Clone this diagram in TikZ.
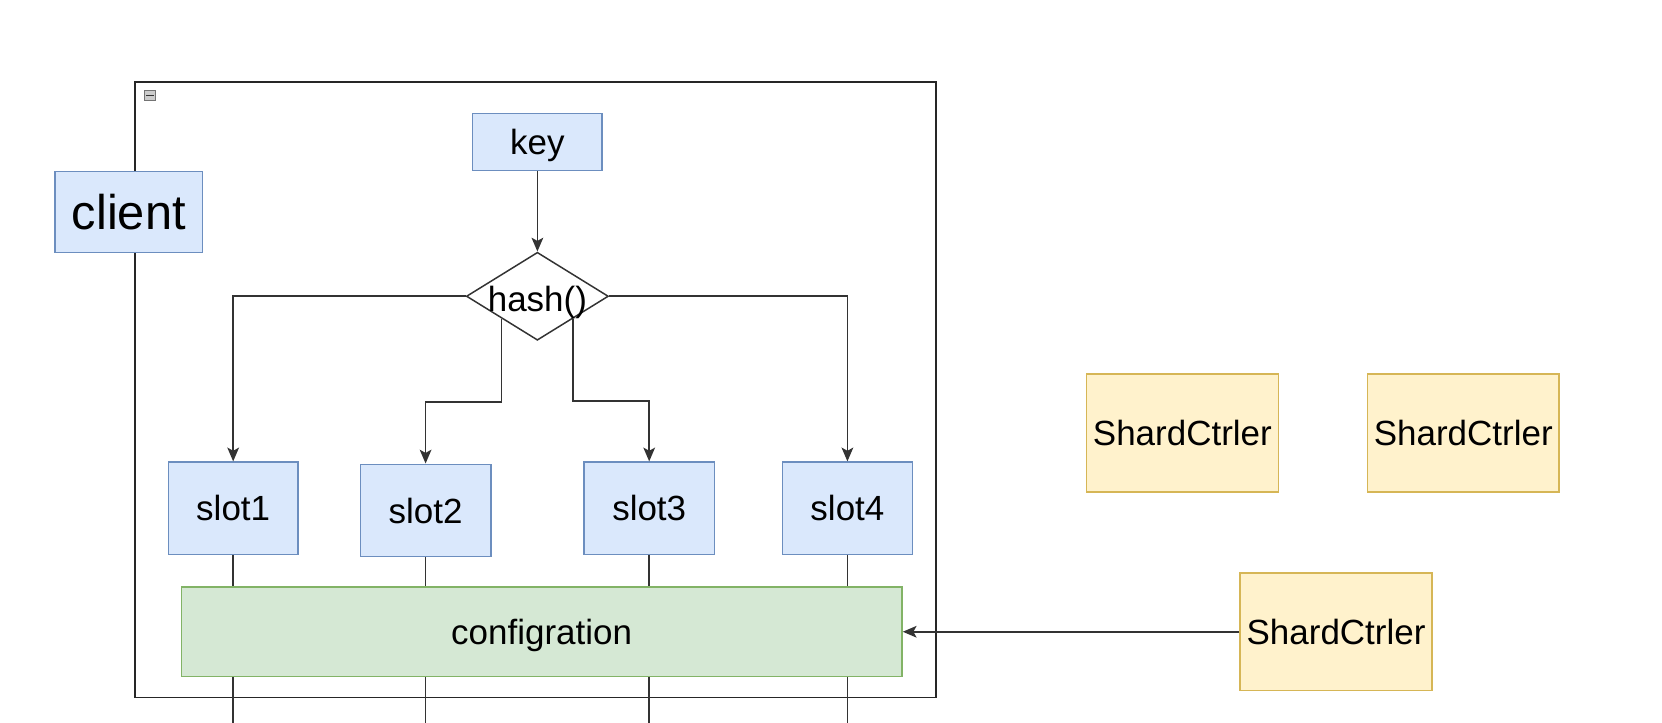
\documentclass[tikz,border=0pt]{standalone}
\usepackage{fontspec}
\setmainfont{Liberation Sans}
\usetikzlibrary{shapes.geometric,arrows.meta,calc}
\definecolor{bluefill}{HTML}{DAE8FC}
\definecolor{blueline}{HTML}{6C8EBF}
\definecolor{greenfill}{HTML}{D5E8D4}
\definecolor{greenline}{HTML}{82B366}
\definecolor{yellowfill}{HTML}{FFF2CC}
\definecolor{yellowline}{HTML}{D6B656}
\definecolor{linecol}{HTML}{333333}
\tikzset{
  bluebox/.style={draw=blueline, fill=bluefill, line width=1.4pt, inner sep=0pt, text depth=0pt, font=\fontsize{33}{39}\selectfont},
  greenbox/.style={draw=greenline, fill=greenfill, line width=1.4pt, inner sep=0pt, text depth=0pt, font=\fontsize{33}{39}\selectfont},
  yellowbox/.style={draw=yellowline, fill=yellowfill, line width=1.4pt, inner sep=0pt, text depth=0pt, font=\fontsize{33}{39}\selectfont},
  conn/.style={draw=linecol, line width=1.7pt},
  arr/.style={conn, -{Stealth[length=13pt,width=11pt,inset=3pt]}},
}
\begin{document}
\begin{tikzpicture}[x=1pt,y=-1pt]
\useasboundingbox (0,0) rectangle (1568,682);
% container
\node[draw=black!85, line width=1.7pt, minimum width=756pt, minimum height=581pt, inner sep=0pt] (frame) at (505,367.5) {};
\node[draw=black!55, fill=black!20, line width=0.8pt, minimum width=11pt, minimum height=10pt, inner sep=0pt] (mini) at (141.5,90) {};
\draw[line width=1.5pt, black!80] ($(mini.west)+(2.5,0)$) -- ($(mini.east)+(-2.5,0)$);
% nodes
\node[bluebox, minimum width=139pt, minimum height=76pt, font=\fontsize{46}{55}\selectfont] (client) at (121.5,200) {client};
\node[bluebox, minimum width=122pt, minimum height=54pt] (key) at (507,134) {key};
\node[diamond, draw=linecol, fill=white, line width=1.4pt, inner sep=0pt, minimum width=134pt, minimum height=83pt, aspect=1.61,
      label={[font=\fontsize{33}{39}\selectfont, text depth=0pt, yshift=-2pt]center:hash()}] (hash) at (507,279.5) {};
\node[bluebox, minimum width=122pt, minimum height=87pt] (slot1) at (220,479.5) {slot1};
\node[bluebox, minimum width=123pt, minimum height=87pt] (slot2) at (401.5,481.5) {slot2};
\node[bluebox, minimum width=123pt, minimum height=87pt] (slot3) at (612.5,479.5) {slot3};
\node[bluebox, minimum width=123pt, minimum height=87pt] (slot4) at (799.5,479.5) {slot4};
\coordinate (bot) at (0,682);
% vertical lines behind configuration
\foreach \s in {slot1,slot2,slot3,slot4}{
  \draw[conn] (\s.south) -- (\s.south |- bot);
}
\node[greenbox, minimum width=680pt, minimum height=84pt] (config) at (511,596) {configration};
\node[yellowbox, minimum width=181pt, minimum height=111pt] (sc1) at (1115.5,408.5) {ShardCtrler};
\node[yellowbox, minimum width=181pt, minimum height=111pt] (sc2) at (1380.5,408.5) {ShardCtrler};
\node[yellowbox, minimum width=181pt, minimum height=111pt] (sc3) at (1260.5,596) {ShardCtrler};
% connectors
\draw[arr] (key.south) -- (hash.north);
\draw[arr] (hash.west) -| (slot1.north);
\draw[arr] (hash.east) -| (slot4.north);
\coordinate (p2) at ($(hash.west)!0.5!(hash.south)$);
\coordinate (p3) at ($(hash.east)!0.5!(hash.south)$);
\draw[arr] (p2) -- (p2 |- 0,379) -| (slot2.north);
\draw[arr] (p3) -- (p3 |- 0,378) -| (slot3.north);
\draw[arr] (sc3.west) -- (config.east);
\end{tikzpicture}
\end{document}
